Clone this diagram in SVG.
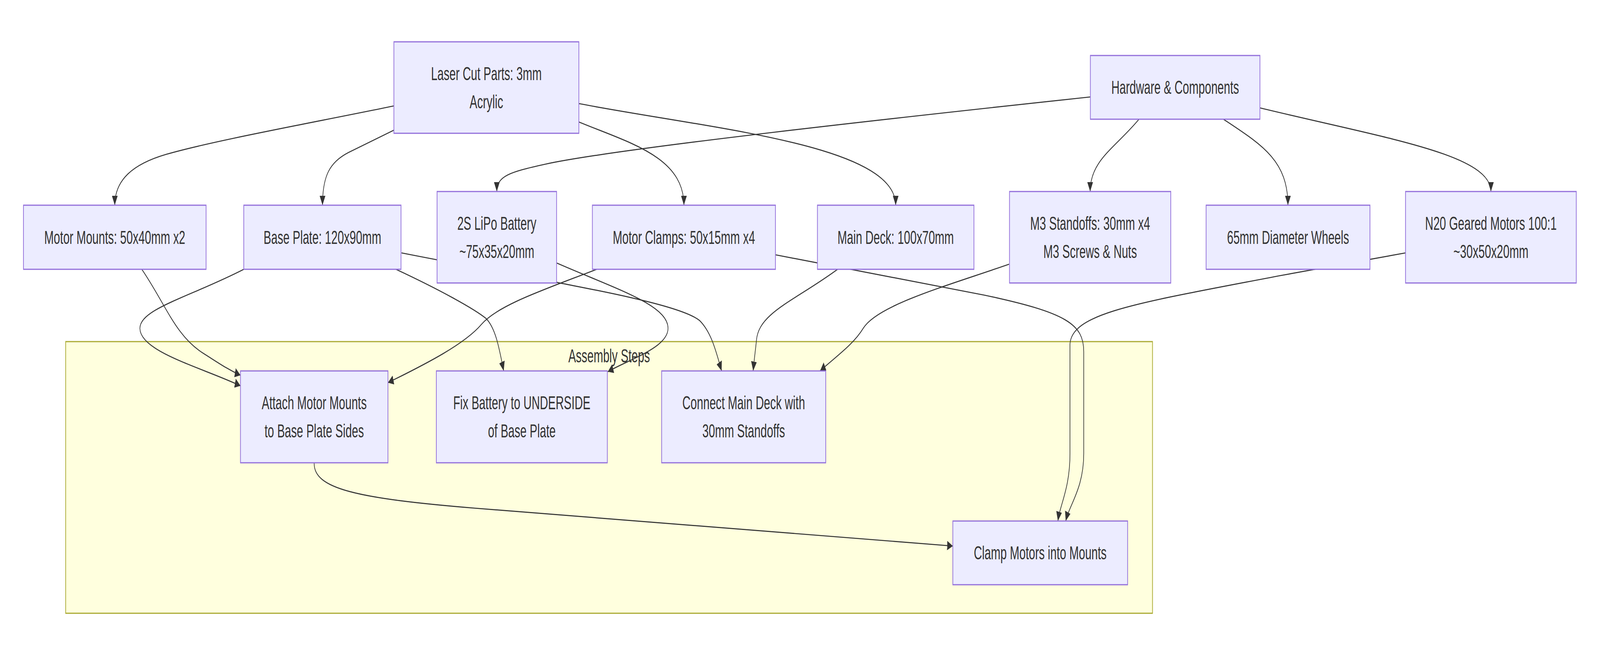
<svg xmlns="http://www.w3.org/2000/svg" width="6747" height="1663" viewBox="0 0 6747 1663" preserveAspectRatio="none">
<style>
svg{width:100%;height:100%}
.node rect{fill:#ECECFF;stroke:#9370DB;stroke-width:3}
.cluster rect{fill:#FFFFDE;stroke:#AAAA33;stroke-width:3}
text{font-family:"Liberation Sans",Arial,sans-serif;font-size:48px;fill:#333333;text-anchor:middle;dominant-baseline:central}
.edges path{fill:none;stroke:#333333;stroke-width:2.7;marker-end:url(#arrow)}
</style>
<defs>
<marker id="arrow" viewBox="0 0 10 10" refX="10" refY="5" markerWidth="24" markerHeight="24" markerUnits="userSpaceOnUse" orient="auto">
<path d="M0,0 L10,5 L0,10 z" fill="#333333"/>
</marker>
</defs>
<rect width="6747" height="1663" fill="#ffffff"/>
<g id="cluster-assembly" class="cluster">
<rect x="277" y="874" width="4583" height="695"/>
<text x="2568.5" y="910">Assembly Steps</text>
</g>
<g id="connectors" class="edges">
<path d="M1661,271 C1300,316 900,360 700,395 C560,420 484,460 484,525"/>
<path d="M1661,333 L1470,390 C1390,415 1360,450 1360,525"/>
<path d="M2441,312 C2650,365 2884,400 2884,525"/>
<path d="M2441,265 C3000,330 3777,370 3777,525"/>
<path d="M4598,248 C3800,300 2600,380 2300,420 C2150,440 2095,450 2095,490"/>
<path d="M4803,305 C4700,380 4597,410 4597,490"/>
<path d="M5159,305 C5320,370 5431,410 5431,525"/>
<path d="M5313,276 C5850,355 6287,395 6287,490"/>
<path d="M598,689 C700,780 740,860 860,905 C920,928 960,945 1014,960"/>
<path d="M1028,689 C800,760 590,790 590,840 C590,900 850,940 1014,987"/>
<path d="M1666,688 C1850,740 2000,790 2050,815 C2090,840 2105,890 2124,949"/>
<path d="M2348,673 C2600,740 2817,780 2817,840 C2817,890 2650,920 2563,951"/>
<path d="M2516,689 C2300,740 2100,780 2030,830 C1960,880 1800,930 1636,979"/>
<path d="M1693,647 C2300,720 2850,770 2950,820 C3000,850 3020,900 3043,949"/>
<path d="M3532,689 C3350,770 3200,800 3190,870 C3185,900 3180,920 3176,949"/>
<path d="M4255,676 C4000,730 3700,780 3640,840 C3600,880 3530,910 3458,949"/>
<path d="M1325,1184 C1320,1250 1500,1275 2000,1300 L4018,1397"/>
<path d="M3271,652 L4150,755 C4500,800 4570,830 4570,900 L4570,1160 C4570,1250 4510,1290 4494,1333"/>
<path d="M5927,647 L5400,705 C4800,775 4520,800 4512,880 L4512,1160 C4512,1250 4470,1290 4461,1333"/>
</g>
<g id="node-laser" class="node">
<rect x="1661" y="107" width="780" height="234"/>
<text x="2051" y="188">Laser Cut Parts: 3mm</text>
<text x="2051" y="260">Acrylic</text>
</g>
<g id="node-hardware" class="node">
<rect x="4598" y="142" width="715" height="163"/>
<text x="4955.5" y="223.5">Hardware &amp; Components</text>
</g>
<g id="node-motor-mounts" class="node">
<rect x="99" y="525" width="770" height="164"/>
<text x="484" y="607">Motor Mounts: 50x40mm x2</text>
</g>
<g id="node-base-plate" class="node">
<rect x="1028" y="525" width="663" height="164"/>
<text x="1359.5" y="607">Base Plate: 120x90mm</text>
</g>
<g id="node-battery" class="node">
<rect x="1843" y="490" width="504" height="234"/>
<text x="2095" y="571">2S LiPo Battery</text>
<text x="2095" y="643">~75x35x20mm</text>
</g>
<g id="node-motor-clamps" class="node">
<rect x="2498" y="525" width="772" height="164"/>
<text x="2884" y="607">Motor Clamps: 50x15mm x4</text>
</g>
<g id="node-main-deck" class="node">
<rect x="3447" y="525" width="660" height="164"/>
<text x="3777" y="607">Main Deck: 100x70mm</text>
</g>
<g id="node-standoffs" class="node">
<rect x="4257" y="490" width="680" height="234"/>
<text x="4597" y="571">M3 Standoffs: 30mm x4</text>
<text x="4597" y="643">M3 Screws &amp; Nuts</text>
</g>
<g id="node-wheels" class="node">
<rect x="5086" y="525" width="691" height="164"/>
<text x="5431.5" y="607">65mm Diameter Wheels</text>
</g>
<g id="node-motors" class="node">
<rect x="5927" y="490" width="720" height="234"/>
<text x="6287" y="571">N20 Geared Motors 100:1</text>
<text x="6287" y="643">~30x50x20mm</text>
</g>
<g id="node-attach" class="node">
<rect x="1014" y="949" width="622" height="235"/>
<text x="1325" y="1030.5">Attach Motor Mounts</text>
<text x="1325" y="1102.5">to Base Plate Sides</text>
</g>
<g id="node-fix-battery" class="node">
<rect x="1840" y="949" width="721" height="235"/>
<text x="2200.5" y="1030.5">Fix Battery to UNDERSIDE</text>
<text x="2200.5" y="1102.5">of Base Plate</text>
</g>
<g id="node-connect" class="node">
<rect x="2790" y="949" width="692" height="235"/>
<text x="3136" y="1030.5">Connect Main Deck with</text>
<text x="3136" y="1102.5">30mm Standoffs</text>
</g>
<g id="node-clamp" class="node">
<rect x="4018" y="1333" width="737" height="163"/>
<text x="4386.5" y="1414.5">Clamp Motors into Mounts</text>
</g>
</svg>
